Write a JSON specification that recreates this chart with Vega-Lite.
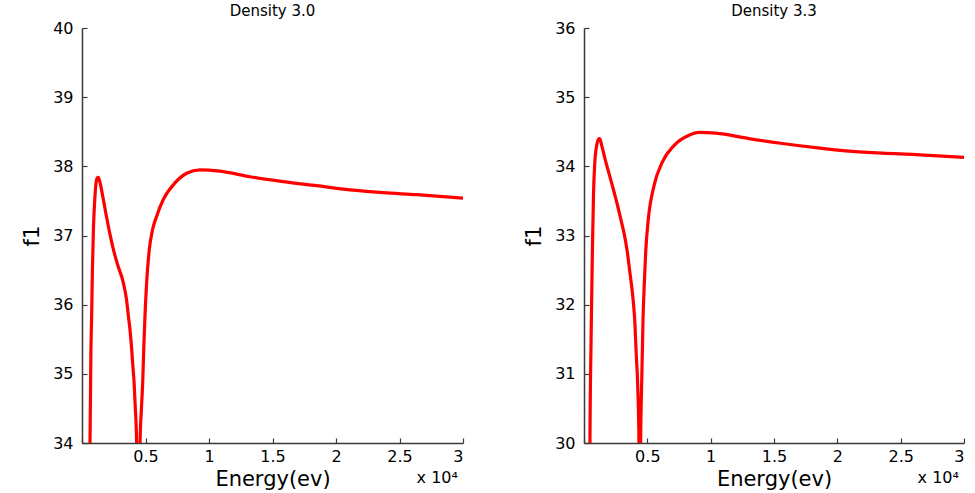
{
  "$schema": "https://vega.github.io/schema/vega-lite/v6.json",
  "background": "white",
  "padding": {"left": 21, "top": 4, "right": 8, "bottom": 2},
  "bounds": "flush",
  "spacing": 121,
  "config": {
    "view": {"stroke": null},
    "font": "DejaVu Sans",
    "axis": {
      "grid": false,
      "domainColor": "#3a3a3a",
      "domainWidth": 1.5,
      "tickColor": "#3a3a3a",
      "tickWidth": 1.2,
      "tickSize": -5,
      "labelFont": "DejaVu Sans",
      "labelFontSize": 16,
      "labelColor": "#000",
      "titleFont": "DejaVu Sans",
      "titleFontSize": 21,
      "titleFontWeight": "normal",
      "titleColor": "#000"
    },
    "title": {"font": "DejaVu Sans", "fontSize": 15, "fontWeight": "normal", "color": "#000", "offset": 1}
  },
  "datasets": {
    "d30": [
      {"E": 400, "f1": 20}, {"E": 600, "f1": 33.2}, {"E": 630, "f1": 34.0}, {"E": 700, "f1": 35.3},
      {"E": 760, "f1": 35.84}, {"E": 820, "f1": 36.5}, {"E": 900, "f1": 37.1}, {"E": 1000, "f1": 37.5},
      {"E": 1100, "f1": 37.75}, {"E": 1200, "f1": 37.83}, {"E": 1285, "f1": 37.84}, {"E": 1400, "f1": 37.78},
      {"E": 1600, "f1": 37.6}, {"E": 1900, "f1": 37.3}, {"E": 2200, "f1": 37.02}, {"E": 2470, "f1": 36.8},
      {"E": 2800, "f1": 36.58}, {"E": 3250, "f1": 36.32}, {"E": 3500, "f1": 36.08}, {"E": 3650, "f1": 35.84},
      {"E": 3800, "f1": 35.6}, {"E": 3910, "f1": 35.36}, {"E": 4010, "f1": 35.1}, {"E": 4100, "f1": 34.88},
      {"E": 4200, "f1": 34.5}, {"E": 4300, "f1": 34.0}, {"E": 4380, "f1": 32.5}, {"E": 4440, "f1": 28},
      {"E": 4520, "f1": 32.5}, {"E": 4570, "f1": 34.0}, {"E": 4680, "f1": 34.5}, {"E": 4780, "f1": 34.88},
      {"E": 4870, "f1": 35.4}, {"E": 4960, "f1": 35.84}, {"E": 5090, "f1": 36.32}, {"E": 5300, "f1": 36.8},
      {"E": 5550, "f1": 37.08}, {"E": 5880, "f1": 37.28}, {"E": 6400, "f1": 37.52}, {"E": 7320, "f1": 37.76},
      {"E": 8240, "f1": 37.9}, {"E": 9290, "f1": 37.95}, {"E": 10870, "f1": 37.93}, {"E": 13230, "f1": 37.85},
      {"E": 15850, "f1": 37.78}, {"E": 18480, "f1": 37.72}, {"E": 21100, "f1": 37.66}, {"E": 23720, "f1": 37.62},
      {"E": 26350, "f1": 37.59}, {"E": 30000, "f1": 37.54}
    ],
    "d33": [
      {"E": 350, "f1": 20}, {"E": 440, "f1": 28.5}, {"E": 470, "f1": 30.0}, {"E": 560, "f1": 31.5},
      {"E": 660, "f1": 32.76}, {"E": 750, "f1": 33.6}, {"E": 850, "f1": 34.05}, {"E": 1000, "f1": 34.3},
      {"E": 1150, "f1": 34.39}, {"E": 1240, "f1": 34.4}, {"E": 1400, "f1": 34.3}, {"E": 1700, "f1": 34.08},
      {"E": 2000, "f1": 33.88}, {"E": 2240, "f1": 33.72}, {"E": 2600, "f1": 33.47}, {"E": 2900, "f1": 33.24},
      {"E": 3200, "f1": 33.0}, {"E": 3420, "f1": 32.76}, {"E": 3600, "f1": 32.5}, {"E": 3760, "f1": 32.27},
      {"E": 3900, "f1": 32.03}, {"E": 4000, "f1": 31.79}, {"E": 4120, "f1": 31.3}, {"E": 4240, "f1": 30.83},
      {"E": 4340, "f1": 30.0}, {"E": 4410, "f1": 26}, {"E": 4450, "f1": 28.5}, {"E": 4470, "f1": 30.0},
      {"E": 4550, "f1": 30.83}, {"E": 4660, "f1": 31.79}, {"E": 4760, "f1": 32.3}, {"E": 4870, "f1": 32.76},
      {"E": 5080, "f1": 33.24}, {"E": 5530, "f1": 33.72}, {"E": 6180, "f1": 34.06}, {"E": 7100, "f1": 34.3},
      {"E": 8290, "f1": 34.45}, {"E": 9080, "f1": 34.49}, {"E": 10400, "f1": 34.48}, {"E": 13030, "f1": 34.4},
      {"E": 15660, "f1": 34.33}, {"E": 18290, "f1": 34.27}, {"E": 20920, "f1": 34.22}, {"E": 23550, "f1": 34.19},
      {"E": 26190, "f1": 34.17}, {"E": 30000, "f1": 34.13}
    ]
  },
  "hconcat": [
    {
      "title": "Density 3.0",
      "width": 381,
      "height": 415,
      "data": {"name": "d30"},
      "layer": [
        {
          "mark": {"type": "line", "color": "#ff0000", "strokeWidth": 3.2, "clip": true, "interpolate": "monotone"},
          "encoding": {
            "x": {"field": "E", "type": "quantitative", "scale": {"domain": [0, 30000], "nice": false},
              "axis": {"values": [0, 5000, 10000, 15000, 20000, 25000, 30000], "labelExpr": "datum.value == 0 ? '' : format(datum.value / 10000, '~g')", "title": "Energy(ev)", "labelPadding": 10, "titlePadding": 4}},
            "y": {"field": "f1", "type": "quantitative", "scale": {"domain": [34, 40], "nice": false, "zero": false},
              "axis": {"values": [34, 35, 36, 37, 38, 39, 40], "format": "d", "title": "f1", "labelPadding": 14, "titlePadding": 10}}
          }
        },
        {
          "data": {"values": [{"t": "x 10⁴"}]},
          "mark": {"type": "text", "align": "right", "baseline": "top", "dy": 27, "fontSize": 16, "font": "DejaVu Sans", "color": "#000", "clip": false},
          "encoding": {"text": {"field": "t"}, "x": {"datum": 29600}, "y": {"datum": 34}}
        }
      ]
    },
    {
      "title": "Density 3.3",
      "width": 380,
      "height": 415,
      "data": {"name": "d33"},
      "layer": [
        {
          "mark": {"type": "line", "color": "#ff0000", "strokeWidth": 3.2, "clip": true, "interpolate": "monotone"},
          "encoding": {
            "x": {"field": "E", "type": "quantitative", "scale": {"domain": [0, 30000], "nice": false},
              "axis": {"values": [0, 5000, 10000, 15000, 20000, 25000, 30000], "labelExpr": "datum.value == 0 ? '' : format(datum.value / 10000, '~g')", "title": "Energy(ev)", "labelPadding": 10, "titlePadding": 4}},
            "y": {"field": "f1", "type": "quantitative", "scale": {"domain": [30, 36], "nice": false, "zero": false},
              "axis": {"values": [30, 31, 32, 33, 34, 35, 36], "format": "d", "title": "f1", "labelPadding": 14, "titlePadding": 10}}
          }
        },
        {
          "data": {"values": [{"t": "x 10⁴"}]},
          "mark": {"type": "text", "align": "right", "baseline": "top", "dy": 27, "fontSize": 16, "font": "DejaVu Sans", "color": "#000", "clip": false},
          "encoding": {"text": {"field": "t"}, "x": {"datum": 29600}, "y": {"datum": 30}}
        }
      ]
    }
  ]
}
